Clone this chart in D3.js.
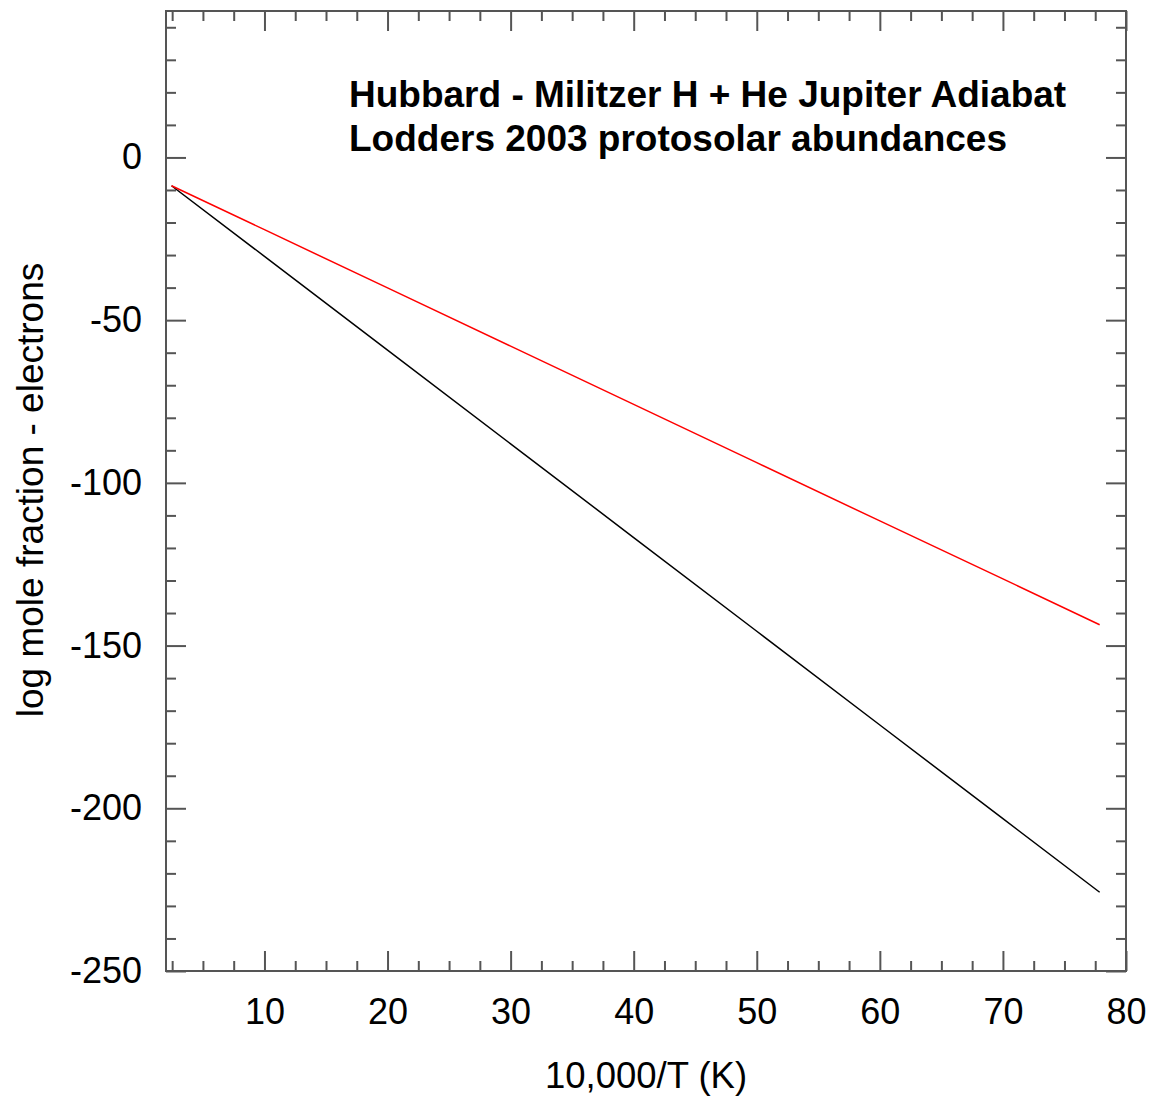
<!DOCTYPE html>
<html lang="en">

<head>
    <meta charset="UTF-8">
    <title>Jupiter Adiabat - electrons</title>
    <style>
        body { margin: 0; background: #fff; }
        svg text { font-family: "Liberation Sans", Arial, sans-serif; fill: #000; }
    </style>
</head>

<body>
    <div id="my_dataviz"></div>
    <script src="https://d3js.org/d3.v7.min.js"></script>
    <script>

        // values
        var invT = [2.45, 10, 20, 30, 40, 50, 60, 70, 77.86]
        var redSeries = [-8.7, -22.2, -40.1, -58.0, -75.9, -93.8, -111.7, -129.5, -143.6]
        var blackSeries = [-8.7, -30.4, -59.2, -88.0, -116.8, -145.6, -174.4, -203.2, -225.8]
        var xMajor = [10, 20, 30, 40, 50, 60, 70, 80]
        var yMajor = [0, -50, -100, -150, -200, -250]
        var titleLines = ["Hubbard - Militzer H + He Jupiter Adiabat", "Lodders 2003 protosolar abundances"]

        // set the dimensions and margins of the graph
        var margin = { top: 11, right: 23, bottom: 126, left: 166 },
            width = 1149 - margin.left - margin.right,
            height = 1097 - margin.top - margin.bottom;

        var svg = d3.select("#my_dataviz")
            .append("svg")
            .attr("width", 1149)
            .attr("height", 1097)
            .append("g")
            .attr("transform", "translate(" + margin.left + "," + margin.top + ")");

        var x = d3.scaleLinear().domain([2, 80]).range([0, width]);
        var y = d3.scaleLinear().domain([-250, 45]).range([height, 0]);

        // minor ticks
        var xMinor = d3.range(2.5, 80, 2.5).filter(function (d) { return d % 10 !== 0 })
        var yMinor = d3.range(-240, 45, 10).filter(function (d) { return d % 50 !== 0 })

        // plain hyphen for negatives, like the original
        var plain = function (d) { return String(d) }

        function styleAxis(g) {
            g.select(".domain").remove()
            g.selectAll("line").attr("stroke", "#555").attr("stroke-width", 2)
            g.selectAll("text").style("font-size", "36px").attr("fill", "#000")
        }

        // bottom
        svg.append("g").attr("transform", "translate(0," + height + ")")
            .call(d3.axisBottom(x).tickValues(xMinor).tickSize(-10).tickFormat(""))
            .call(styleAxis)
        svg.append("g").attr("transform", "translate(0," + height + ")")
            .call(d3.axisBottom(x).tickValues(xMajor).tickSize(-20).tickPadding(27).tickFormat(plain))
            .call(styleAxis)
        // top
        svg.append("g")
            .call(d3.axisTop(x).tickValues(xMinor).tickSize(-10).tickFormat(""))
            .call(styleAxis)
        svg.append("g")
            .call(d3.axisTop(x).tickValues(xMajor).tickSize(-20).tickFormat(""))
            .call(styleAxis)
        // left
        svg.append("g")
            .call(d3.axisLeft(y).tickValues(yMinor).tickSize(-10).tickFormat(""))
            .call(styleAxis)
        svg.append("g")
            .call(d3.axisLeft(y).tickValues(yMajor).tickSize(-20).tickPadding(24).tickFormat(plain))
            .call(styleAxis)
        // right
        svg.append("g").attr("transform", "translate(" + width + ",0)")
            .call(d3.axisRight(y).tickValues(yMinor).tickSize(-10).tickFormat(""))
            .call(styleAxis)
        svg.append("g").attr("transform", "translate(" + width + ",0)")
            .call(d3.axisRight(y).tickValues(yMajor).tickSize(-20).tickFormat(""))
            .call(styleAxis)

        // frame
        svg.append("rect")
            .attr("width", width).attr("height", height)
            .attr("fill", "none").attr("stroke", "#555").attr("stroke-width", 2)

        // lines
        var line = d3.line()
            .x(function (d) { return x(d[0]); })
            .y(function (d) { return y(d[1]); })

        svg.append("path")
            .datum(d3.zip(invT, blackSeries))
            .attr("fill", "none").attr("stroke", "#000").attr("stroke-width", 1.5)
            .attr("d", line)
        svg.append("path")
            .datum(d3.zip(invT, redSeries))
            .attr("fill", "none").attr("stroke", "#ff0000").attr("stroke-width", 1.5)
            .attr("d", line)

        // title inside the plot
        svg.selectAll(".title")
            .data(titleLines)
            .enter()
            .append("text")
            .attr("x", 183)
            .attr("y", function (d, i) { return 96 + i * 43.5 })
            .style("font-size", "37px")
            .style("font-weight", "bold")
            .text(function (d) { return d })

        // axis titles
        svg.append("text")
            .attr("x", 480).attr("y", height + 117)
            .attr("text-anchor", "middle")
            .style("font-size", "36.5px")
            .text("10,000/T (K)")
        svg.append("text")
            .attr("transform", "translate(" + (43 - margin.left) + "," + 479 + ") rotate(-90)")
            .attr("text-anchor", "middle")
            .style("font-size", "37px")
            .text("log mole fraction - electrons")

    </script>
</body>

</html>
